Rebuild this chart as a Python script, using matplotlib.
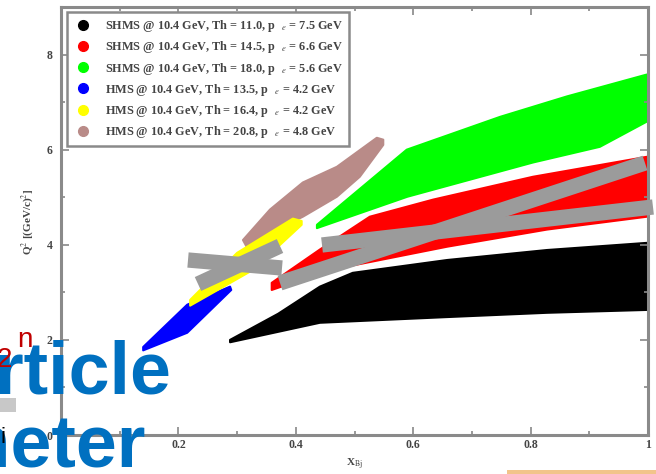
import numpy as np
import matplotlib
matplotlib.use('Agg')
import matplotlib.pyplot as plt
from matplotlib.lines import Line2D
from matplotlib.patches import Rectangle

plt.rcParams['mathtext.fontset'] = 'stix'
plt.rcParams['font.family'] = ['Liberation Serif', 'DejaVu Serif']

W, H = 656, 474

# ---- data: acceptance bands (upper / lower boundaries) ----
labels = [
    r"SHMS @ 10.4 GeV, Th = 11.0, p $_{\ \ e}$ = 7.5 GeV",
    r"SHMS @ 10.4 GeV, Th = 14.5, p $_{\ \ e}$ = 6.6 GeV",
    r"SHMS @ 10.4 GeV, Th = 18.0, p $_{\ \ e}$ = 5.6 GeV",
    r"HMS @ 10.4 GeV, Th = 13.5, p $_{\ \ e}$ = 4.2 GeV",
    r"HMS @ 10.4 GeV, Th = 16.4, p $_{\ \ e}$ = 4.2 GeV",
    r"HMS @ 10.4 GeV, Th = 20.8, p $_{\ \ e}$ = 4.8 GeV",
]
colors = ['#000000', '#ff0000', '#00ff00', '#0000ff', '#ffff00', '#b98b88']

black_xu = [0.288, 0.37, 0.441, 0.497, 0.658, 0.828, 0.998]
black_yu = [2.0, 2.55, 3.12, 3.41, 3.68, 3.89, 4.04]
black_xl = [0.288, 0.441, 0.658, 0.828, 0.998]
black_yl = [1.95, 2.36, 2.48, 2.57, 2.63]

red_xu = [0.359, 0.441, 0.526, 0.634, 0.804, 0.998]
red_yu = [3.2, 3.9, 4.59, 4.95, 5.43, 5.85]
red_xl = [0.359, 0.458, 0.658, 0.828, 0.998]
red_yl = [3.05, 3.47, 3.96, 4.32, 4.59]

green_xu = [0.436, 0.589, 0.748, 0.862, 0.998]
green_yu = [4.42, 6.0, 6.69, 7.12, 7.58]
green_xl = [0.436, 0.59, 0.804, 0.918, 0.998]
green_yl = [4.35, 5.01, 5.73, 6.06, 6.59]

blue_xu = [0.14, 0.215, 0.288]
blue_yu = [1.85, 2.74, 3.12]
blue_xl = [0.14, 0.215, 0.29]
blue_yl = [1.78, 2.15, 3.05]

yellow_xu = [0.22, 0.30, 0.395, 0.41]
yellow_yu = [2.84, 3.83, 4.55, 4.5]
yellow_xl = [0.22, 0.327, 0.41]
yellow_yl = [2.72, 3.47, 4.42]

brown_xu = [0.31, 0.356, 0.412, 0.47, 0.538, 0.549]
brown_yu = [4.1, 4.74, 5.31, 5.64, 6.25, 6.21]
brown_xl = [0.317, 0.356, 0.412, 0.47, 0.509, 0.549]
brown_yl = [3.94, 4.25, 4.59, 5.01, 5.43, 6.1]

bands = [
    (black_xu, black_yu, black_xl, black_yl, colors[0]),
    (red_xu, red_yu, red_xl, red_yl, colors[1]),
    (green_xu, green_yu, green_xl, green_yl, colors[2]),
    (blue_xu, blue_yu, blue_xl, blue_yl, colors[3]),
    (brown_xu, brown_yu, brown_xl, brown_yl, colors[5]),
    (yellow_xu, yellow_yu, yellow_xl, yellow_yl, colors[4]),
]

xticks = [0.2, 0.4, 0.6, 0.8, 1.0]
xticklabels = ['0.2', '0.4', '0.6', '0.8', '1']
yticks = [0, 2, 4, 6, 8]
yticklabels = ['0', '2', '4', '6', '8']

fig = plt.figure(figsize=(W / 100, H / 100), dpi=100)
ax = fig.add_axes([61 / W, 1 - 435 / H, (648 - 61) / W, (435 - 7) / H])

for xu, yu, xl, yl, c in bands:
    xs = np.concatenate([xu, xl[::-1]])
    ys = np.concatenate([yu, yl[::-1]])
    ax.fill(xs, ys, color=c, lw=1.5, ec=c, joinstyle='round')

ax.set_xlim(0, 1)
ax.set_ylim(0, 9.0)
ax.set_xticks(xticks)
ax.set_xticklabels(xticklabels)
ax.set_yticks(yticks)
ax.set_yticklabels(yticklabels)
ax.set_xticks(np.arange(0.1, 1.0, 0.2), minor=True)
ax.set_yticks([1, 3, 5, 7], minor=True)
ax.tick_params(which='both', direction='in', top=True, right=True,
               color='#888888', width=1.2)
ax.tick_params(which='major', length=6)
ax.tick_params(which='minor', length=3)
ax.tick_params(axis='x', pad=3)
ax.tick_params(axis='y', pad=6)
for lab in ax.get_xticklabels() + ax.get_yticklabels():
    lab.set_fontsize(8.5)
    lab.set_fontweight('bold')
    lab.set_color('#444444')
for s in ax.spines.values():
    s.set_color('#8a8a8a')
    s.set_linewidth(2.2)

ax.set_xlabel(r"X$_{\rm Bj}$", fontsize=8, fontweight='bold', color='#444444', labelpad=4)
fig.text(28 / W, 1 - 222 / H, r"Q$^2$ [(GeV/c)$^2$]", rotation=90, ha='center', va='center',
         fontsize=8, fontweight='bold', color='#444444')

handles = [Line2D([], [], ls='none', marker='o', ms=7, mfc=c, mec=c) for c in colors]
leg = ax.legend(handles, labels, loc='upper left', bbox_to_anchor=(0.0102, 0.988),
                borderaxespad=0, labelspacing=0.42, handletextpad=1.0,
                borderpad=0.5, handlelength=1.6, fancybox=False, framealpha=1,
                prop={'family': 'Liberation Serif', 'weight': 'bold', 'size': 8.8})
leg.get_frame().set_edgecolor('#8a8a8a')
leg.get_frame().set_linewidth(1.8)
for t in leg.get_texts():
    t.set_color('#444444')

# ---- slide overlays ----
def fx(px):
    return px / W

def fy(py):
    return 1 - py / H

gray = '#9b9b9b'
for (x0, y0), (x1, y1) in [((280, 283), (645, 163)),
                           ((322, 245), (653, 207)),
                           ((188, 260), (282, 268)),
                           ((198, 284), (280, 246))]:
    fig.add_artist(Line2D([fx(x0), fx(x1)], [fy(y0), fy(y1)], transform=fig.transFigure,
                          color=gray, lw=11, solid_capstyle='butt'))

blue = '#0070c0'
fig.text(fx(-5), fy(393), "rticle", fontsize=53, fontweight='bold', color=blue,
         family='Liberation Sans', ha='left', va='baseline')
fig.text(fx(-55), fy(467), "meter", fontsize=53, fontweight='bold', color=blue,
         family='Liberation Sans', ha='left', va='baseline')
fig.text(fx(-3), fy(367), "2", fontsize=20, color='#c00000', family='Liberation Sans',
         ha='left', va='baseline', zorder=5)
fig.text(fx(17), fy(347), "n", fontsize=20, color='#c00000', family='Liberation Sans',
         ha='left', va='baseline', zorder=5)
fig.add_artist(Rectangle((0, fy(412)), fx(16), 14 / H, transform=fig.transFigure,
                         color='#c8c8c8', lw=0))
fig.text(fx(1), fy(443), "i", fontsize=16, color='black', family='Liberation Sans',
         ha='left', va='baseline')
fig.add_artist(Rectangle((fx(507), 0), fx(656) - fx(507), 4 / H, transform=fig.transFigure,
                         color='#f2c48a', lw=0))

fig.savefig('out.png', dpi=100)
